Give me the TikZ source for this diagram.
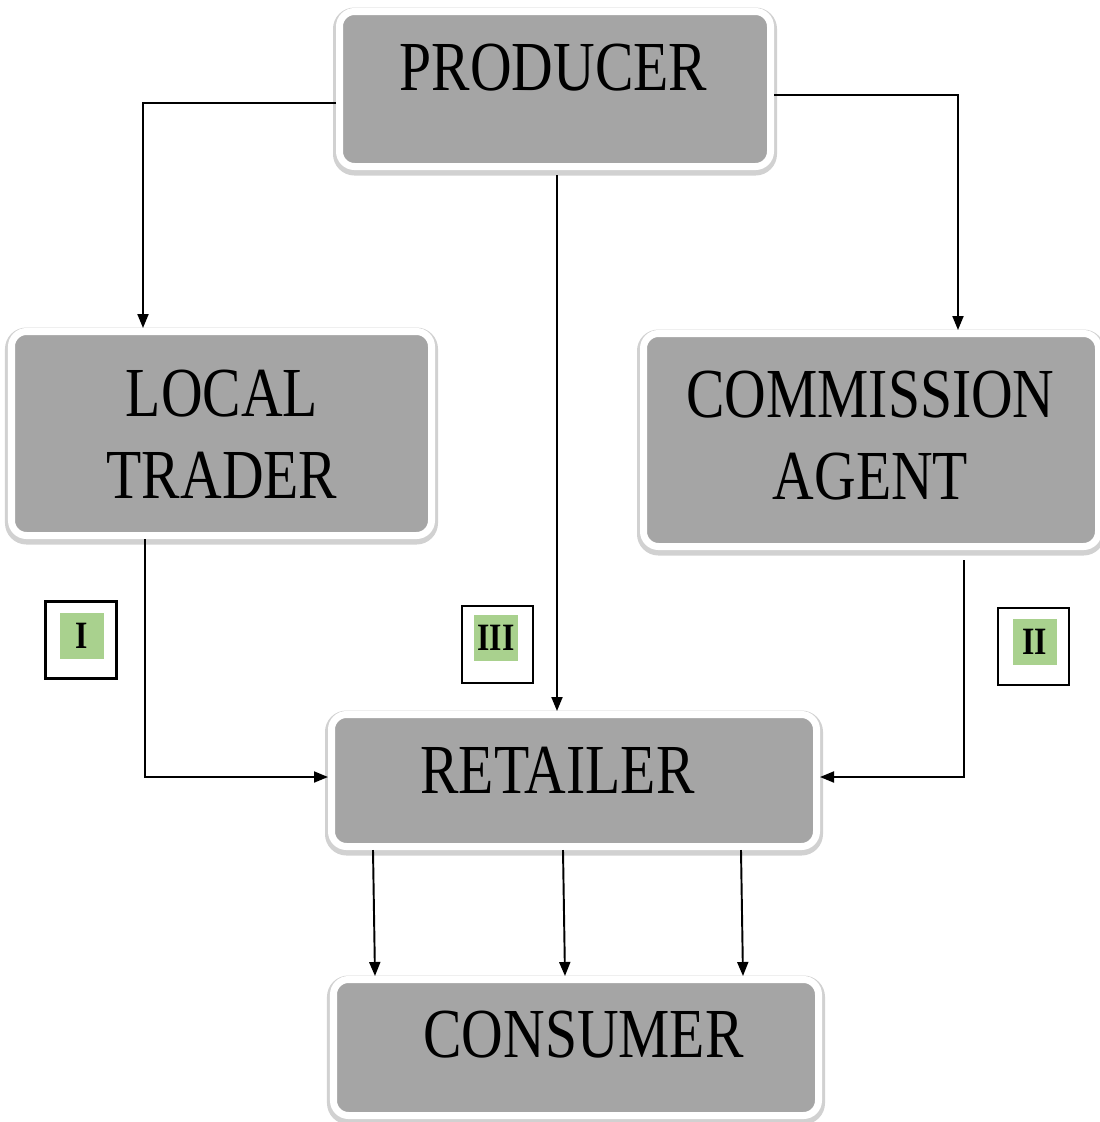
\documentclass[tikz,border=0pt]{standalone}
\usepackage{fontspec}
\setmainfont{Liberation Serif}[FakeStretch=0.82]
\usetikzlibrary{arrows.meta}
\definecolor{boxgray}{HTML}{A5A5A5}
\definecolor{taggreen}{HTML}{A9D18E}

\begin{document}
\begin{tikzpicture}[
    stage/.style={rectangle, rounded corners=0.15cm, fill=boxgray, draw=white, line width=0.07cm, inner sep=0pt,
                  preaction={draw=black!18, line width=0.13cm, transform canvas={yshift=-0.025cm}}},
    caption/.style={inner sep=0pt, align=center, font=\fontsize{20}{23.5}\selectfont},
    flow/.style={-{Triangle[length=1.4mm,width=1.1mm]}, line width=0.55pt},
    tagbox/.style={draw, line width=0.6pt, fill=white, inner sep=0pt, minimum width=0.71cm, minimum height=0.77cm},
    tag/.style={fill=taggreen, inner sep=0pt, minimum width=0.44cm, minimum height=0.46cm, font=\fontsize{11}{11}\selectfont\bfseries}
  ]
  \useasboundingbox (0,0) rectangle (11,-11.22);

  % the five stages
  \node[stage, minimum width=4.31cm, minimum height=1.55cm] (prod)  at (5.55,-0.89)   {};
  \node[stage, minimum width=4.20cm, minimum height=2.04cm] (trad)  at (2.215,-4.335) {};
  \node[stage, minimum width=4.55cm, minimum height=2.13cm] (agent) at (8.71,-4.40)   {};
  \node[stage, minimum width=4.85cm, minimum height=1.32cm] (ret)   at (5.74,-7.805)  {};
  \node[stage, minimum width=4.85cm, minimum height=1.36cm] (cons)  at (5.76,-10.475) {};

  \node[caption, anchor=base]  (prodtxt)  at (5.535,-0.90)  {PRODUCER};
  \node[caption, anchor=north] (tradtxt)  at (2.22,-3.69)   {LOCAL\\TRADER};
  \node[caption, anchor=north] (agenttxt) at (8.705,-3.70)  {COMMISSION\\AGENT};
  \node[caption, anchor=base]  (rettxt)   at (5.575,-7.93)  {RETAILER};
  \node[caption, anchor=base]  (constxt)  at (5.835,-10.57) {CONSUMER};

  % channels
  \draw[flow] ([yshift=-0.14cm]prod.west) -| ([xshift=-0.785cm]trad.north);
  \draw[flow] ([yshift=-0.06cm]prod.east) -| ([xshift=0.87cm]agent.north);
  \draw[flow] ([shift={(0.02,-0.05)}]prod.south) -- ([xshift=-0.17cm]ret.north);
  \draw[flow] ([xshift=-0.765cm]trad.south) |- ([yshift=0.035cm]ret.west);
  \draw[flow] ([shift={(0.93,-0.1)}]agent.south) |- ([yshift=0.035cm]ret.east);
  \foreach \dx in {-2.01,-0.11,1.67}
    \draw[flow] ([xshift=\dx cm]ret.south) -- ([xshift=\dx cm]cons.north);

  % channel numbers
  \node[tagbox] (tagIbox)   at (0.81,-6.40)   {};
  \node[tag]    (tagI)      at (0.815,-6.355) {I};
  \node[tagbox] (tagIIIbox) at (4.975,-6.445) {};
  \node[tag]    (tagIII)    at (4.96,-6.38)   {III};
  \node[tagbox] (tagIIbox)  at (10.335,-6.465) {};
  \node[tag]    (tagII)     at (10.35,-6.42)  {II};
\end{tikzpicture}
\end{document}
